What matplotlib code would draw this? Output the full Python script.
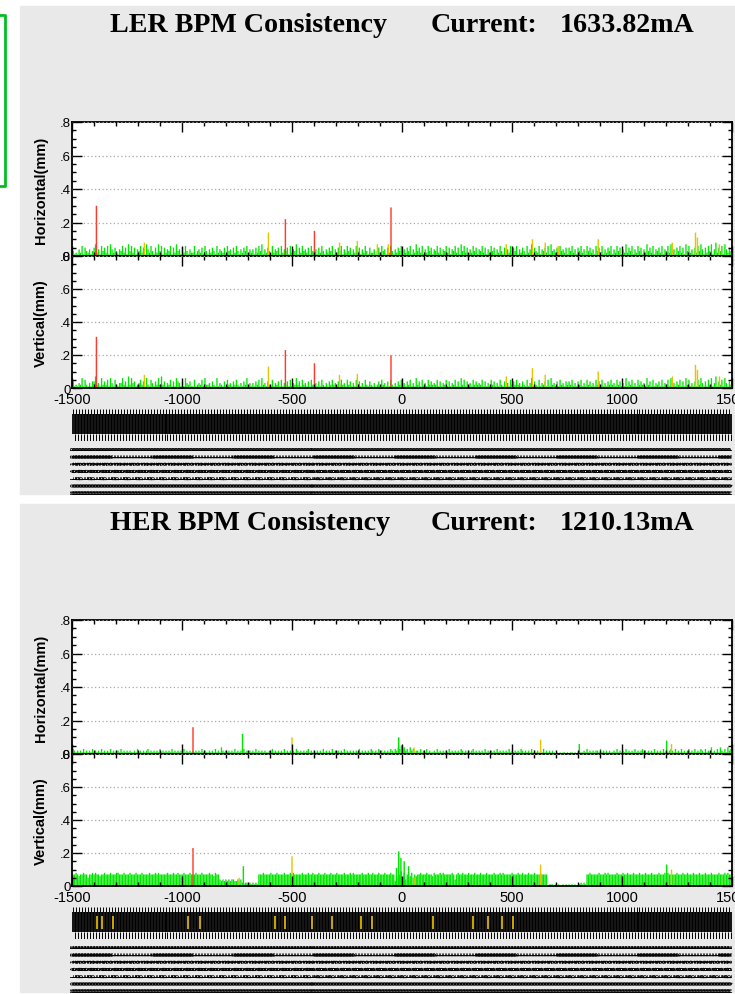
import numpy as np
import matplotlib.pyplot as plt
from matplotlib.patches import Rectangle
from matplotlib.lines import Line2D
from matplotlib.ticker import MultipleLocator, FuncFormatter

plt.rcParams["axes.unicode_minus"] = False

# ---- data: BPM consistency, one digit per BPM in units of 0.01 mm ----
ler_h_str = (
    "3121426153" "2413572416" "3526174253" "1436251736"
    "2514362517" "4263152736" "1524361527" "3415263142"
    "2613425163" "1425316243" "2516341526" "3142536142"
    "4152637142" "5316243516" "2435162437" "1526342516"
    "3241526314" "2536142536" "1426351426" "3514263152"
    "2413526341" "5263142536" "1425361427" "3526142635"
    "1436251436" "2514362517" "3625142635" "1436251426"
    "3514263152" "4261536142" "5316247153" "2614352617"
    "3425163425" "1536241536" "2416352416" "3526142536"
    "1426351427" "2536142635" "1427352614" "3526143627"
    "2415362517" "3624152637" "4152637148" "2536174253"
)
ler_v_str = (
    "4121326152" "1314472316" "2425163152" "1336241726"
    "3412352416" "2153142627" "2413251416" "4314163241"
    "1512325162" "2314216132" "1415231425" "2131426131"
    "3142516231" "4215132415" "1324151326" "2415231415"
    "2131415213" "1425231425" "2315241315" "2413152142"
    "1312415231" "4152131425" "2314251316" "2415131524"
    "2325141325" "1413251416" "2514231524" "2325141315"
    "2413152141" "3152425231" "4215136142" "1513241516"
    "2314152314" "2425131425" "1315241315" "2415131425"
    "2315241316" "1425131524" "2316241513" "2415132516"
    "1314251416" "2513141526" "3141526137" "1425163142"
)
her_h_str = (
    "3212121312" "1213121213" "1212131212" "2131212121"
    "1213121212" "3121212131" "2121213121" "2121312121"
    "2121213121" "1212131214" "2121212131" "2121312121"
    "2131212121" "1213121212" "1312121213" "2121212312"
    "1212121312" "1213121212" "1312121212" "1312121213"
    "2121312121" "2132132435" "3423142312" "2131213121"
    "1213121212" "1312121213" "2121212312" "1212131212"
    "1213121212" "1312121213" "2121213121" "2121312121"
    "2101010110" "1011010111" "1213121212" "2131212121"
    "1213121213" "1212131212" "3121212131" "2121312123"
    "2131213121" "2312131213" "2131214121" "3142131423"
)
her_v_str = (
    "7787677877" "5778787767" "7877787778" "8777877787"
    "7787778777" "7877787877" "7778777877" "8777877787"
    "7787778777" "7877687743" "4343434433" "4342122121"
    "2121777877" "7787778777" "7877787877" "7778777877"
    "8777877787" "7787778777" "7877787877" "7778777877"
    "8777877787" "7787736579" "5847368576" "7787778777"
    "6877787877" "7778747877" "8777877787" "7787778777"
    "7877787877" "7778777877" "8777877787" "7787777011"
    "1010100101" "0101010012" "1217787777" "7877787877"
    "7778777877" "8777877787" "7787778777" "7877787877"
    "7778777877" "8777877787" "7787778777" "7877787877"
)

# flagged BPMs: position (m), value (mm), colour class
ler_h_flag_s = [-1389, -1171, -607, -530, -398, -284, -203, -112, -62, -50,
                474, 593, 651, 710, 892, 1229, 1334, 1343, 1443]
ler_h_flag_v = [0.30, 0.08, 0.14, 0.22, 0.15, 0.08, 0.09, 0.07, 0.07, 0.29,
                0.07, 0.10, 0.08, 0.06, 0.10, 0.08, 0.14, 0.11, 0.07]
ler_h_flag_c = ["r", "y", "y", "r", "r", "y", "y", "y", "y", "r",
                "y", "y", "y", "y", "y", "y", "y", "y", "y"]

ler_v_flag_s = [-1389, -1171, -607, -530, -398, -284, -203, -50,
                474, 593, 651, 892, 1229, 1334, 1343, 1443]
ler_v_flag_v = [0.31, 0.08, 0.13, 0.23, 0.15, 0.08, 0.085, 0.20,
                0.07, 0.12, 0.08, 0.10, 0.07, 0.14, 0.11, 0.07]
ler_v_flag_c = ["r", "y", "y", "r", "r", "y", "y", "r",
                "y", "y", "y", "y", "y", "y", "y", "y"]

her_h_flag_s = [-950, -725, -500, -15, 55, 630, 806, 1203, 1225]
her_h_flag_v = [0.16, 0.12, 0.10, 0.10, 0.04, 0.085, 0.06, 0.08, 0.06]
her_h_flag_c = ["r", "g", "y", "g", "y", "y", "g", "g", "y"]

her_v_flag_s = [-950, -740, -721, -500, -25, -15, -5, 10, 30, 55, 630, 1203, 1225]
her_v_flag_v = [0.23, 0.05, 0.12, 0.18, 0.11, 0.21, 0.17, 0.15, 0.12, 0.05, 0.13, 0.13, 0.10]
her_v_flag_c = ["r", "y", "g", "y", "g", "g", "g", "g", "g", "y", "y", "g", "y"]

# BPM positions marked yellow in the HER lattice strip
her_strip_yellow = [-1385, -1362, -1312, -971, -917, -576, -530, -408, -317,
                    -185, -135, 142, 324, 392, 455, 505]

ler_title = ("LER BPM Consistency", "Current:", "1633.82mA")
her_title = ("HER BPM Consistency", "Current:", "1210.13mA")

BPM_FAMILIES = ["QLA", "QLB", "QLC", "QFA", "QDA", "QFB", "QDB", "QLD"]

COLORS = {"g": "#00e600", "y": "#e6c400", "r": "#ff3a28"}
GRAY = "#e9e9e9"
BAR_W = 6.0
FLAG_W = 6.5

W, H = 735, 995
fig = plt.figure(figsize=(W / 100, H / 100), dpi=100)
fig.patch.set_facecolor("white")

AX_L, AX_W = 72, 660


def fx(px):
    return px / W


def fy(px):
    return 1 - px / H


def digits(s):
    return np.array([int(c) for c in s]) * 0.01


def bpm_names(n, ring):
    names = []
    for k in range(n):
        fam = BPM_FAMILIES[k % len(BPM_FAMILIES)]
        side = "RL"[(k // 27) % 2]
        names.append(f"M{fam}{k % 9 + 1}{side}{ring}")
    return names


def style_axes(ax, bottom_labels, top_label, bottom_label):
    ax.set_xlim(-1500, 1500)
    ax.set_ylim(0, 0.8)
    ax.xaxis.set_major_locator(MultipleLocator(500))
    ax.xaxis.set_minor_locator(MultipleLocator(100))
    ax.yaxis.set_major_locator(MultipleLocator(0.2))
    ax.yaxis.set_minor_locator(MultipleLocator(0.05))
    ax.tick_params(which="both", direction="in", top=True, right=True,
                   width=1, color="black")
    ax.tick_params(which="major", length=7)
    ax.tick_params(which="minor", length=3)
    ax.tick_params(axis="x", labelbottom=bottom_labels, labelsize=10.5, pad=3)
    ax.tick_params(axis="y", labelsize=9.5, pad=1)

    def yfmt(v, pos):
        if abs(v) < 1e-6:
            return bottom_label
        if abs(v - 0.8) < 1e-6:
            return top_label
        return "." + str(int(round(v * 10)))

    ax.yaxis.set_major_formatter(FuncFormatter(yfmt))
    for lab in ax.get_xticklabels() + ax.get_yticklabels():
        lab.set_family("Liberation Sans")
    ax.grid(axis="y", which="major", color="#a8a8a8", linestyle=(0, (1, 2)), lw=0.9)
    ax.set_axisbelow(False)
    for sp in ax.spines.values():
        sp.set_linewidth(1.3)


def draw_bars(ax, values, flag_s, flag_v, flag_c):
    s = np.linspace(-1495, 1495, len(values))
    ax.bar(s, values, width=BAR_W, color=COLORS["g"], linewidth=0,
           snap=False, zorder=1)
    ax.bar(flag_s, flag_v, width=FLAG_W, color=[COLORS[c] for c in flag_c],
           linewidth=0, snap=False, zorder=1.1)


def draw_ring(offset, title, h_str, v_str, hflags, vflags, ring, yellow_marks):
    # gray panel behind everything
    fig.patches.append(Rectangle((fx(20), fy(offset + 488)), fx(715), 488 / H,
                                 transform=fig.transFigure, color=GRAY, zorder=-5))
    # title
    for txt, x in zip(title, (110, 431, 560)):
        fig.text(fx(x), fy(offset + 25), txt, fontsize=20.2, weight="bold",
                 family="Liberation Serif", va="baseline", ha="left")

    top = offset + 116
    mid = offset + 250
    bot = offset + 382
    ax_h = fig.add_axes([fx(AX_L), fy(mid), fx(AX_W), (mid - top) / H])
    ax_v = fig.add_axes([fx(AX_L), fy(bot), fx(AX_W), (bot - mid) / H])

    draw_bars(ax_h, digits(h_str), *hflags)
    draw_bars(ax_v, digits(v_str), *vflags)
    style_axes(ax_h, False, ".8", ".0")
    style_axes(ax_v, True, ".8", "0")
    for ax, lab in ((ax_h, "Horizontal(mm)"), (ax_v, "Vertical(mm)")):
        ax.set_ylabel(lab, fontsize=10.5, weight="bold", family="Liberation Sans",
                      labelpad=0)
        ax.yaxis.set_label_coords(-0.037, 0.5)

    # lattice strip with BPM markers
    st_top = offset + 403
    st_bot = offset + 435
    ax_s = fig.add_axes([fx(AX_L), fy(st_bot), fx(AX_W), (st_bot - st_top) / H])
    ax_s.set_xlim(-1500, 1500)
    ax_s.set_ylim(0, 1)
    ax_s.axis("off")
    n = len(h_str)
    s = np.linspace(-1495, 1495, n)
    ax_s.vlines(s, 0.22, 0.84, color="black", lw=1.3)
    ax_s.vlines(s[::2], 0.84, 1.0, color="black", lw=0.7)
    ax_s.vlines(s[1::2], 0.0, 0.22, color="black", lw=0.7)
    if yellow_marks:
        ax_s.vlines(yellow_marks, 0.32, 0.72, color="#d8b400", lw=1.3)

    # BPM names under the strip, letters spread out along the column
    tr = ax_s.get_xaxis_transform()
    for x, name in zip(s, bpm_names(n, ring)):
        ax_s.text(x, -0.14, " ".join(name), transform=tr, rotation=90,
                  ha="center", va="top", fontsize=4.3, weight="bold",
                  family="DejaVu Sans Mono", clip_on=False)


draw_ring(7, ler_title, ler_h_str, ler_v_str,
          (ler_h_flag_s, ler_h_flag_v, ler_h_flag_c),
          (ler_v_flag_s, ler_v_flag_v, ler_v_flag_c), "P", None)
draw_ring(505, her_title, her_h_str, her_v_str,
          (her_h_flag_s, her_h_flag_v, her_h_flag_c),
          (her_v_flag_s, her_v_flag_v, her_v_flag_c), "E", her_strip_yellow)

# green frame edge at the left
fig.add_artist(Line2D([fx(0), fx(5), fx(5), fx(0)],
                      [fy(16), fy(16), fy(187), fy(187)],
                      transform=fig.transFigure, color="#00c020", lw=2))

fig.savefig("out.png", dpi=100)
